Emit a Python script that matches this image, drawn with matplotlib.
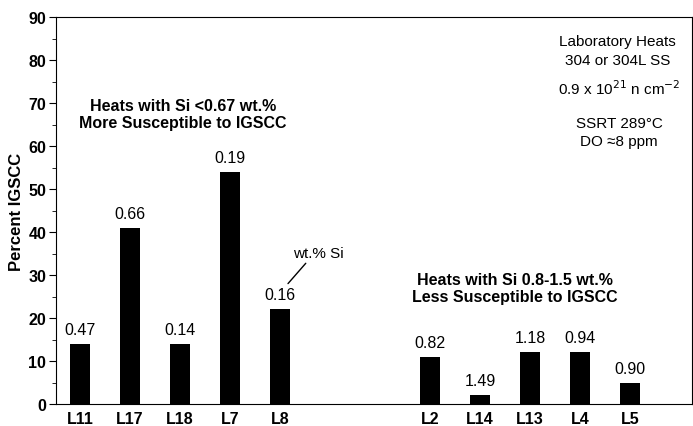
import matplotlib

matplotlib.use("Agg")
import matplotlib.pyplot as plt
from matplotlib.ticker import MultipleLocator

plt.rcParams["font.family"] = ["Liberation Sans", "DejaVu Sans"]

# Heats with low Si (more susceptible) and high Si (less susceptible)
low_heats = ["L11", "L17", "L18", "L7", "L8"]
low_igscc = [14, 41, 14, 54, 22]
low_si = ["0.47", "0.66", "0.14", "0.19", "0.16"]

high_heats = ["L2", "L14", "L13", "L4", "L5"]
high_igscc = [11, 2, 12, 12, 5]
high_si = ["0.82", "1.49", "1.18", "0.94", "0.90"]

low_pos = [0, 1, 2, 3, 4]
high_pos = [7, 8, 9, 10, 11]

fig = plt.figure(figsize=(6.93, 4.27), dpi=100)
ax = fig.add_axes([56 / 693, 22 / 427, (692 - 56) / 693, (405 - 18) / 427])

ax.bar(low_pos, low_igscc, width=0.4, color="black")
ax.bar(high_pos, high_igscc, width=0.4, color="black")

for x, h, s in zip(low_pos + high_pos, low_igscc + high_igscc, low_si + high_si):
    ax.annotate(s, (x, h), xytext=(0, 5), textcoords="offset points",
                ha="center", va="bottom", fontsize=11.5)

ax.set_xlim(-0.48, 12.24)
ax.set_ylim(0, 90)
ax.set_xticks(low_pos + high_pos)
ax.set_xticklabels(low_heats + high_heats, fontsize=11.5, fontweight="bold")
ax.yaxis.set_major_locator(MultipleLocator(10))
ax.yaxis.set_minor_locator(MultipleLocator(5))
ax.tick_params(axis="y", which="both", right=True, labelsize=11.5, pad=2)
ax.tick_params(axis="y", which="major", length=5)
ax.tick_params(axis="y", which="minor", length=3)
ax.tick_params(axis="x", length=0, pad=5)
for lbl in ax.get_yticklabels():
    lbl.set_fontweight("bold")
ax.set_ylabel("Percent IGSCC", fontsize=12, fontweight="bold", labelpad=3)

ax.text(2.06, 67.5, "Heats with Si <0.67 wt.%\nMore Susceptible to IGSCC",
        ha="center", va="center", fontsize=11.5, fontweight="bold", linespacing=1.15)
ax.text(8.7, 27, "Heats with Si 0.8-1.5 wt.%\nLess Susceptible to IGSCC",
        ha="center", va="center", fontsize=11.5, fontweight="bold", linespacing=1.15)

ax.text(10.75, 82.2, "Laboratory Heats\n304 or 304L SS", ha="center", va="center",
        fontsize=11, linespacing=1.4)
ax.text(10.78, 73.5, r"0.9 x 10$^{21}$ n cm$^{-2}$", ha="center", va="center", fontsize=11)
ax.text(10.78, 63.2, "SSRT 289°C\nDO ≈8 ppm", ha="center", va="center",
        fontsize=11, linespacing=1.4)

ax.annotate("wt.% Si", xy=(4.16, 28), xytext=(4.26, 35), fontsize=11,
            ha="left", va="center",
            arrowprops=dict(arrowstyle="-", color="black", lw=1,
                            shrinkA=0, shrinkB=0,
                            relpos=(0.3, 0)))

fig.savefig("out.png", dpi=100)
